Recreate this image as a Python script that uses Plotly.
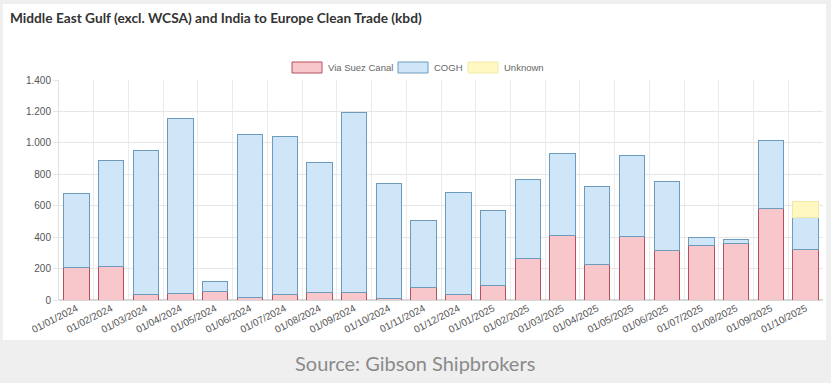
import plotly.graph_objects as go

months = ["01/01/2024", "01/02/2024", "01/03/2024", "01/04/2024", "01/05/2024", "01/06/2024",
          "01/07/2024", "01/08/2024", "01/09/2024", "01/10/2024", "01/11/2024", "01/12/2024",
          "01/01/2025", "01/02/2025", "01/03/2025", "01/04/2025", "01/05/2025", "01/06/2025",
          "01/07/2025", "01/08/2025", "01/09/2025", "01/10/2025"]
via_suez = [210, 212, 35, 42, 57, 17, 32, 46, 50, 10, 82, 38, 95, 267, 411, 223, 403, 318, 350, 360, 583, 324]
cogh = [468, 674, 919, 1116, 60, 1039, 1010, 826, 1146, 733, 425, 649, 477, 503, 522, 498, 515, 433, 49, 26, 435, 202]
unknown = [None, None, None, None, None, None, None, None, None, None, None, None,
           None, None, None, None, None, None, None, None, None, 99]
y_ticks = [0, 200, 400, 600, 800, 1000, 1200, 1400]

series_names = ["Via Suez Canal", "COGH", "Unknown"]
fills = ["rgba(248,196,200,0.95)", "rgba(203,229,248,0.95)", "rgba(255,248,190,0.95)"]
borders = ["#b4505c", "#6e9bbb", "#f2e8a8"]

W, H = 831, 383
L, R, T, B = 59, 8, 80, 83
pw, ph = W - L - R, H - T - B


def px_x(x):
    return (x - L) / pw


def px_y(y):
    return (H - B - y) / ph


fig = go.Figure()
for name, vals, fc, bc in zip(series_names, [via_suez, cogh, unknown], fills, borders):
    fig.add_trace(go.Bar(x=months, y=vals, name=name, showlegend=False,
                         marker=dict(color=fc, line=dict(color=bc, width=1))))

# custom legend (wide boxes like the original)
shapes = [dict(type="rect", xref="paper", yref="paper", layer="below",
               x0=px_x(3), x1=px_x(826), y0=px_y(340), y1=px_y(4),
               fillcolor="white", line=dict(width=0))]
annotations = []
legend_box_x = [292, 398, 468]
for name, bx, fc, bc in zip(series_names, legend_box_x, fills, borders):
    shapes.append(dict(type="rect", xref="paper", yref="paper",
                       x0=px_x(bx), x1=px_x(bx + 30), y0=px_y(73), y1=px_y(62),
                       fillcolor=fc, line=dict(color=bc, width=1)))
    annotations.append(dict(text=name, xref="paper", yref="paper", x=px_x(bx + 34), y=px_y(67.5),
                            xanchor="left", yanchor="middle", showarrow=False,
                            font=dict(size=9.5, color="#666")))

annotations.append(dict(text="Source: Gibson Shipbrokers", xref="paper", yref="paper",
                        x=px_x(415), y=px_y(363), xanchor="center", yanchor="middle",
                        showarrow=False,
                        font=dict(family="Lato, sans-serif", size=20, color="#8a8a8a")))

fig.update_layout(
    width=W, height=H,
    barmode="stack", bargap=0.27,
    separators=",.",
    paper_bgcolor="#efefef", plot_bgcolor="white",
    margin=dict(l=L, r=R, t=T, b=B, autoexpand=False),
    font=dict(family="Liberation Sans, Arial, sans-serif", color="#666"),
    title=dict(text="Middle East Gulf (excl. WCSA) and India to Europe Clean Trade (kbd)",
               xref="container", yref="container", x=10 / W, y=1 - 18 / H,
               xanchor="left", yanchor="middle",
               font=dict(family="Lato, sans-serif", size=13.7, color="#333", weight="bold")),
    showlegend=False,
    xaxis=dict(type="category", tickson="boundaries", showgrid=True, gridcolor="#ebebeb",
               tickangle=-27, tickfont=dict(size=10, color="#555"), ticks="",
               showline=False, zeroline=False),
    yaxis=dict(range=[0, 1400], tickvals=y_ticks, tickformat=",d", showgrid=True,
               gridcolor="#e6e6e6", tickfont=dict(size=10, color="#555"),
               ticks="outside", ticklen=5, tickcolor="#e6e6e6",
               showline=True, linecolor="#e0e0e0", zeroline=True, zerolinecolor="#d8d8d8"),
    shapes=shapes,
    annotations=annotations,
)

fig.write_html("out.html", config={"displayModeBar": False},
               post_script="document.body.style.margin='0';document.body.style.background='#efefef';")
